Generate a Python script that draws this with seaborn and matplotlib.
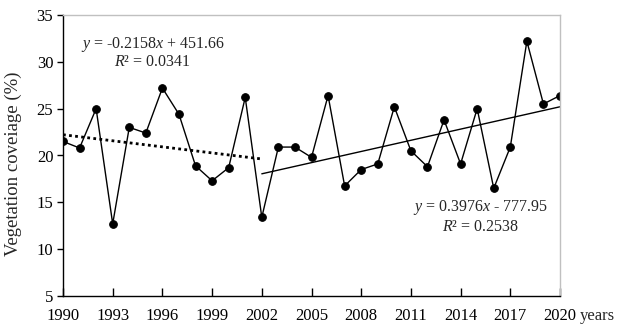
import numpy as np
import pandas as pd
import matplotlib
matplotlib.use("Agg")
import matplotlib.pyplot as plt
import seaborn as sns

years = list(range(1990, 2021))
coverage = [21.5, 20.8, 25.0, 12.7, 23.0, 22.4, 27.2, 24.4, 18.9, 17.3, 18.7,
            26.2, 13.4, 20.9, 20.9, 19.8, 26.4, 16.75, 18.5, 19.1, 25.2, 20.5,
            18.8, 23.8, 19.1, 25.0, 16.5, 20.9, 32.2, 25.5, 26.4]
trend1_coef = (-0.2158, 451.66)
trend1_years = [1990, 2002]
trend2_coef = (0.3976, -777.95)
trend2_years = [2002, 2020]
xticks = list(range(1990, 2021, 3))
yticks = [5, 10, 15, 20, 25, 30, 35]

sns.set_style("white")
plt.rcParams['font.family'] = ['Liberation Serif', 'DejaVu Serif']
plt.rcParams['mathtext.fontset'] = 'custom'
plt.rcParams['mathtext.rm'] = 'Liberation Serif'
plt.rcParams['mathtext.it'] = 'Liberation Serif:italic'

df = pd.DataFrame({"year": years, "cov": coverage})
fig = plt.figure(figsize=(6.24, 3.34), dpi=100)
ax = fig.add_axes([63/624, 1 - 296/334, (560-63)/624, (296-15)/334])

sns.lineplot(data=df, x="year", y="cov", ax=ax, color="black", lw=1.0,
             marker="o", markersize=5.5, markeredgecolor="black")

t1 = pd.DataFrame({"x": trend1_years})
t1["y"] = trend1_coef[0] * t1["x"] + trend1_coef[1]
sns.lineplot(data=t1, x="x", y="y", ax=ax, color="black", lw=2.0, linestyle=(0, (1, 1.2)))
t2 = pd.DataFrame({"x": trend2_years})
t2["y"] = trend2_coef[0] * t2["x"] + trend2_coef[1]
sns.lineplot(data=t2, x="x", y="y", ax=ax, color="black", lw=1.0)

ax.set_xlim(1990, 2020)
ax.set_ylim(5, 35)
ax.set_xticks(xticks)
ax.set_yticks(yticks)
ax.tick_params(axis="x", direction="in", length=6, width=1, labelsize=12, pad=9, colors="black")
ax.tick_params(axis="y", direction="out", length=4, width=1, labelsize=12, pad=3, colors="black")
ax.tick_params(bottom=True, left=True)
for s in ["left", "bottom"]:
    ax.spines[s].set_color("black")
    ax.spines[s].set_linewidth(1.0)
for s in ["top", "right"]:
    ax.spines[s].set_color("#c0c0c0")
    ax.spines[s].set_linewidth(1.0)
ax.set_xlabel("")
ax.set_ylabel("Vegetation coveiage (%)", fontsize=13.5, labelpad=5)
ax.yaxis.set_label_coords(-0.082, 0.47)

ax.text(1995.45, 31.9, r"$\it{y}$ = -0.2158$\it{x}$ + 451.66", ha="center", va="center", fontsize=11.5)
ax.text(1995.4, 30.0, r"$\it{R}$² = 0.0341", ha="center", va="center", fontsize=11.5)
ax.text(2015.2, 14.4, r"$\it{y}$ = 0.3976$\it{x}$ - 777.95", ha="center", va="center", fontsize=11.5)
ax.text(2015.2, 12.4, r"$\it{R}$² = 0.2538", ha="center", va="center", fontsize=11.5)
ax.text(2021.2, 2.9, "years", ha="left", va="center", fontsize=12, clip_on=False)

fig.savefig("out.png", dpi=100)
